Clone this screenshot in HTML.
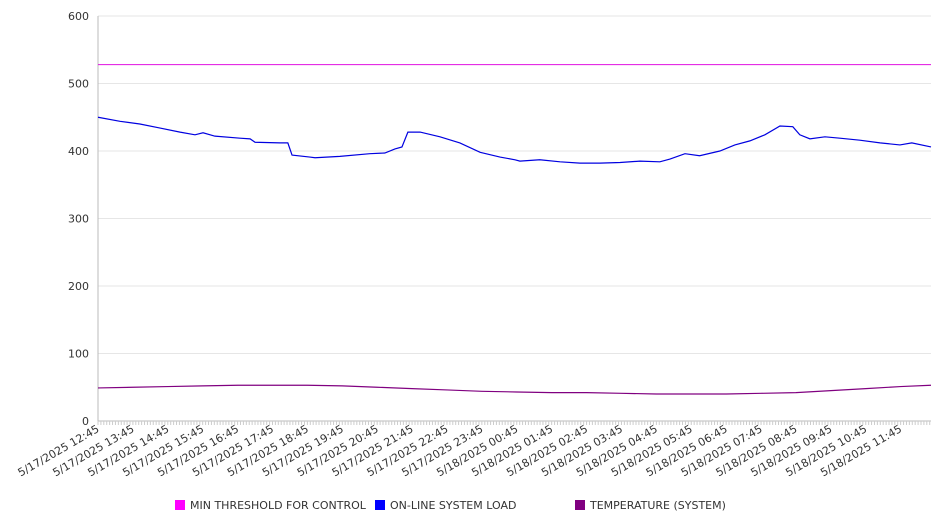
<!DOCTYPE html>
<html><head><meta charset="utf-8"><style>
body{margin:0;background:#fff;font-family:"Liberation Sans","DejaVu Sans",sans-serif;}
svg text{font-family:"DejaVu Sans","Liberation Sans",sans-serif;}
</style></head><body>
<svg id="chart" width="946" height="526" xmlns="http://www.w3.org/2000/svg"></svg>
<script>
const yTicks=[0,100,200,300,400,500,600];
const xLabels=["5/17/2025 12:45","5/17/2025 13:45","5/17/2025 14:45","5/17/2025 15:45","5/17/2025 16:45","5/17/2025 17:45","5/17/2025 18:45","5/17/2025 19:45","5/17/2025 20:45","5/17/2025 21:45","5/17/2025 22:45","5/17/2025 23:45","5/18/2025 00:45","5/18/2025 01:45","5/18/2025 02:45","5/18/2025 03:45","5/18/2025 04:45","5/18/2025 05:45","5/18/2025 06:45","5/18/2025 07:45","5/18/2025 08:45","5/18/2025 09:45","5/18/2025 10:45","5/18/2025 11:45"];
const loadHours=[0,0.63,1.2,1.78,2.35,2.78,3.01,3.35,4.07,4.36,4.5,5.21,5.44,5.56,6.07,6.22,6.93,7.79,8.22,8.51,8.71,8.88,9.23,9.8,10.37,10.95,11.52,11.95,12.09,12.66,13.24,13.81,14.38,14.96,15.53,16.1,16.39,16.82,17.24,17.82,18.25,18.68,19.11,19.54,19.91,20.11,20.4,20.83,21.26,21.83,22.41,22.98,23.32,23.87];
const loadValues=[450,444,440,434,428,424,427,422,419,418,413,412,412,394,391,390,392,396,397,403,406,428,428,421,412,398,391,387,385,387,384,382,382,383,385,384,388,396,393,400,409,415,424,437,436,424,418,421,419,416,412,409,412,406];
const tempHours=[0,1,2,3,4,5,6,7,8,9,10,11,12,13,14,15,16,17,18,19,20,21,22,23,23.87];
const tempValues=[49,50,51,52,53,53,53,52,50,48,46,44,43,42,42,41,40,40,40,41,42,45,48,51,53];
const thresholdValue=528;
const NS="http://www.w3.org/2000/svg";
const svg=document.getElementById('chart');
const L=98,R=931,T=16,B=421,XMAX=23.87;
const xs=h=>L+(R-L)*h/XMAX;
const ys=v=>B-(B-T)*v/600;
function mk(tag,attrs,parent){const e=document.createElementNS(NS,tag);for(const k in attrs)e.setAttribute(k,attrs[k]);(parent||svg).appendChild(e);return e;}
yTicks.forEach(v=>{
  const g=mk('line',{x1:L,x2:R,y1:ys(v),y2:ys(v),stroke:v===0?'#bbb':'#e6e6e6','stroke-width':1});
  
  
  const t=mk('text',{x:L-9,y:ys(v)+4,'text-anchor':'end','font-size':11,fill:'#333'});
  t.textContent=v;
  
  
});
const ax=mk('line',{x1:L,x2:L,y1:T,y2:B,stroke:'#bbb'});


for(let m=0;m<=XMAX*12;m++){
  const x=xs(m/12);
  const tk=mk('line',{x1:x,x2:x,y1:B,y2:B+4,stroke:'#ccc'});
  
  
}
xLabels.forEach((s,i)=>{
  const x=xs(i)+2,y=B+10;
  const t=mk('text',{x:x,y:y,'text-anchor':'end','font-size':11,fill:'#333',transform:`rotate(-30 ${x} ${y})`});
  t.textContent=s;
  
  
});
const th=mk('line',{x1:L,x2:R,y1:ys(thresholdValue),y2:ys(thresholdValue),stroke:'#e010e0','stroke-width':1});


const lp=mk('polyline',{points:loadHours.map((h,i)=>xs(h)+','+ys(loadValues[i])).join(' '),fill:'none',stroke:'#0000e0','stroke-width':1.2});


const tp=mk('polyline',{points:tempHours.map((h,i)=>xs(h)+','+ys(tempValues[i])).join(' '),fill:'none',stroke:'#800080','stroke-width':1.2});


const legend=[["MIN THRESHOLD FOR CONTROL","#ff00ff",175],["ON-LINE SYSTEM LOAD","#0000ff",375],["TEMPERATURE (SYSTEM)","#800080",575]];
legend.forEach(l=>{
  const g=mk('g',{});
  
  
  mk('rect',{x:l[2],y:500,width:10,height:10,fill:l[1]},g);
  const t=mk('text',{x:l[2]+15,y:509,'font-size':11,fill:'#333'},g);
  t.textContent=l[0];
});
</script>
</body></html>
